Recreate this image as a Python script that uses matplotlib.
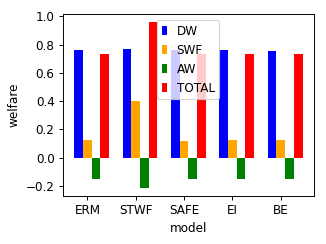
import matplotlib
matplotlib.use("Agg")
import matplotlib.pyplot as plt
import numpy as np

models = ["ERM", "STWF", "SAFE", "EI", "BE"]
dw = [0.76, 0.765, 0.76, 0.76, 0.755]
swf = [0.122, 0.40, 0.117, 0.122, 0.122]
aw = [-0.155, -0.213, -0.155, -0.155, -0.155]
total = [0.732, 0.958, 0.732, 0.732, 0.732]

x = np.arange(len(models))
w = 0.18
dpi = 86

fig = plt.figure(figsize=(326 / dpi, 244 / dpi), dpi=dpi)
ax = fig.add_axes([0.193, 0.197, 0.77, 0.746])

ax.bar(x - w, dw, width=w, color="blue", label="DW")
ax.bar(x, swf, width=w, color="orange", label="SWF")
ax.bar(x + w, aw, width=w, color="green", label="AW")
ax.bar(x + 2 * w, total, width=w, color="red", label="TOTAL")

ax.set_xticks(x)
ax.set_xticklabels(models)
ax.set_xlabel("model")
ax.set_ylabel("welfare")
ax.legend(loc="upper center", handlelength=0.4)

fig.savefig("out.png", dpi=dpi)
